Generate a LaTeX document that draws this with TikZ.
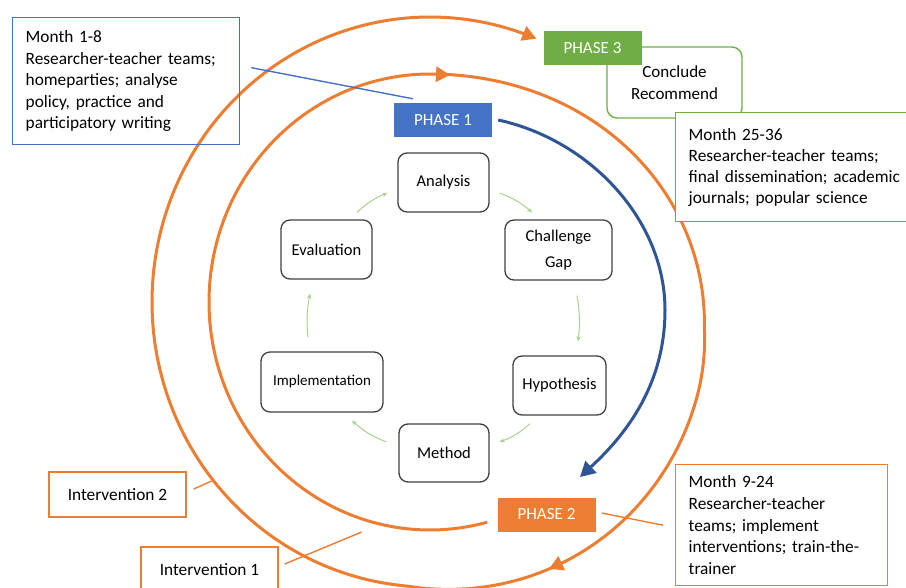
\documentclass[tikz,border=0pt]{standalone}
\usepackage{fontspec}
\setmainfont{Carlito}
\usetikzlibrary{arrows.meta,calc}
\definecolor{orn}{HTML}{ED7D31}
\definecolor{bluebox}{HTML}{4472C4}
\definecolor{bluedark}{HTML}{2F5597}
\definecolor{grn}{HTML}{70AD47}
\definecolor{lgrn}{HTML}{A9D18E}
\definecolor{cycgray}{HTML}{404040}
\begin{document}
\begin{tikzpicture}[x=1pt,y=1pt,
  declare function={
    sg(\p)=(1-cos(180*min(1,max(0,(\p-180)/110))))/2;
    bp(\p)=((\p>275)*(\p<365))*0.035*sin(2*(\p-275));
    rxf(\p)=(221+57*sg(\p))*(1+bp(\p));
    ryf(\p)=(228+57*sg(\p))*(1+bp(\p));
  },
  txt/.style={font=\fontsize{17.3}{21.6}\selectfont},
  infobox/.style={draw, line width=1.4pt, txt, align=left, inner xsep=13pt, inner ysep=0pt, anchor=north west},
  labbox/.style={draw=orn, line width=1.4pt, txt, inner sep=0pt, minimum width=137pt, minimum height=45pt},
  phasebox/.style={text=white, font=\fontsize{17}{20}\selectfont, minimum width=98pt, minimum height=34pt, inner sep=0pt},
  cycbox/.style={draw=cycgray, line width=1.3pt, rounded corners=9pt, font=\fontsize{16.5}{26}\selectfont, inner sep=0pt, align=center, minimum height=59pt},
  cycarrow/.style={draw=lgrn, line width=1pt, -{Stealth[length=5pt,width=4.5pt]}},
  spiraltip/.style={draw=orn, line width=3pt, -{Triangle[length=14pt,width=15pt]}},
  thinline/.style={line width=1.4pt}
]
\useasboundingbox (0,0) rectangle (906,-588);

% Conclude / Recommend box (behind phase 3 and month 25-36)
\node[draw=grn, line width=1.4pt, rounded corners=10pt, minimum width=135pt, minimum height=71pt, inner sep=0pt, align=center, font=\fontsize{17}{22}\selectfont] (cr) at (674.5,-82.5) {Conclude\\Recommend};

% spiral (starts beside PHASE 2, ends at PHASE 3)
\draw[spiraltip] plot[domain=-15:562.5, samples=240, variable=\t, smooth]
  ({430-rxf(\t)*sin(\t)}, {-302-ryf(\t)*cos(\t)});
\draw[spiraltip] (437,-74.3) -- (450,-75);
\draw[spiraltip] (562,-563) -- (549,-569);

% phase boxes
\node[phasebox, fill=bluebox] (p1) at (443,-120) {PHASE 1};
\node[phasebox, fill=orn] (p2) at (546.5,-514.5) {PHASE 2};
\node[phasebox, fill=grn] (p3) at (592.5,-48.5) {PHASE 3};

% blue arrow
\coordinate (bE) at (580,-477);
\draw[draw=bluedark, line width=3pt, -{Triangle[length=15pt,width=16pt]}] ([xshift=6pt]p1.east) .. controls (590,-140) and (665,-220) .. (665,-310) .. controls (665,-390) and (620,-440) .. (bE);

% info boxes
\node[infobox, draw=bluebox, text width=201pt, minimum height=127pt] (m18) at (12,-17)
  {Month 1-8\\Researcher-teacher teams;\\homeparties; analyse\\policy, practice and\\participatory writing};
\node[infobox, draw=grn, fill=white, text width=214pt, minimum height=109pt, font=\fontsize{17.3}{21}\selectfont] (m2536) at (675,-112)
  {Month 25-36\\Researcher-teacher teams;\\final dissemination; academic\\journals; popular science};
\node[infobox, draw=orn, fill=white, text width=186pt, minimum height=121pt] (m924) at (675,-464)
  {Month 9-24\\Researcher-teacher\\teams; implement\\interventions; train-the-\\trainer};
\node[labbox] (i2) at (117.5,-494.5) {Intervention 2};
\node[labbox] (i1) at (209.5,-569.5) {Intervention 1};

% thin connectors
\draw[thinline, draw=bluebox] ($(m18.east)+(11,13.5)$) -- ($(p1.north)+(-30,4)$);
\draw[thinline, draw=orn] ($(i2.east)+(7,5.5)$) -- ($(i2.east)+(25,13.5)$);
\draw[thinline, draw=orn] ($(i1.east)+(6,5.5)$) -- ($(i1.east)+(83,37.5)$);
\draw[thinline, draw=orn] ($(p2.east)+(6,1.5)$) -- ($(m924.west)+(-12,0)$);

% cycle
\node[cycbox, minimum width=91pt] (an) at (443.5,-182.5) {Analysis};
\node[cycbox, minimum width=107pt, minimum height=60pt] (ch) at (558.5,-250) {Challenge\\Gap};
\node[cycbox, minimum width=93pt] (hy) at (559.5,-385.5) {Hypothesis};
\node[cycbox, minimum width=90pt, minimum height=58pt] (me) at (444,-453) {Method};
\node[cycbox, minimum width=122pt, minimum height=60pt, font=\fontsize{15}{18}\selectfont] (im) at (322,-382) {Implementation};
\node[cycbox, minimum width=91pt] (ev) at (326.5,-249.5) {Evaluation};

\draw[cycarrow] ($(an.east)+(10,-10.5)$) to[bend left=10] ($(ch.north)+(-26.5,7)$);
\draw[cycarrow] ($(ch.south)+(18.5,-15)$) to[bend left=8] ($(hy.north)+(18.5,14)$);
\draw[cycarrow] ($(hy.south)+(-29.5,-8)$) to[bend left=10] ($(me.east)+(10,11)$);
\draw[cycarrow] ($(me.west)+(-12,11)$) to[bend left=10] ($(im.south)+(30,-8)$);
\draw[cycarrow] ($(im.north)+(-14,14)$) to[bend left=8] ($(ev.south)+(-16.5,-14)$);
\draw[cycarrow] ($(ev.north)+(30.5,7)$) to[bend left=10] ($(an.west)+(-10,-10.5)$);
\end{tikzpicture}
\end{document}
